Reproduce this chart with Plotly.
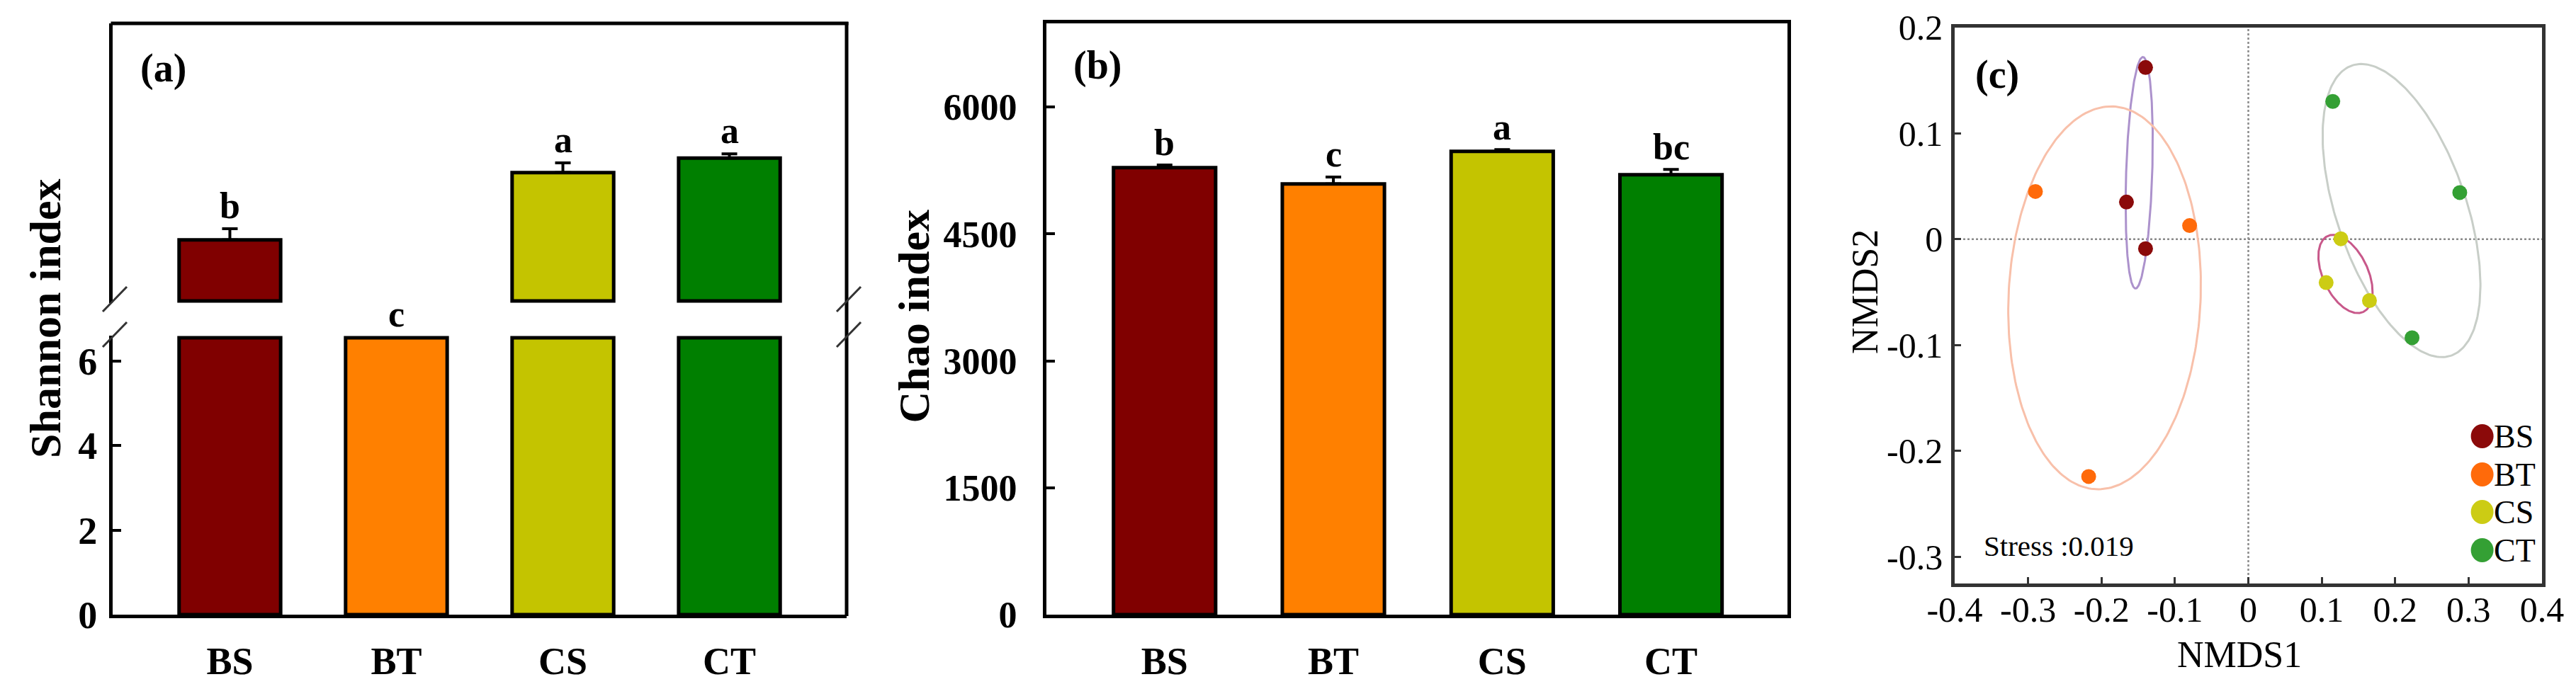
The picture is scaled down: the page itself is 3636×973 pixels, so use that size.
import numpy as np
import plotly.graph_objects as go

W, H = 3636, 973

# ---------------- data ----------------
categories = ["BS", "BT", "CS", "CT"]
bar_colors = ["#800000", "#FF8000", "#C4C400", "#007F00"]

shannon = [6.688, 6.58, 6.785, 6.806]
shannon_err = [0.016, 0.0, 0.014, 0.006]
shannon_letters = ["b", "c", "a", "a"]

chao = [5284, 5091, 5476, 5201]
chao_err = [31, 83, 21, 62]
chao_letters = ["b", "c", "a", "bc"]

shannon_ticks = [0, 2, 4, 6]
chao_ticks = [0, 1500, 3000, 4500, 6000]
nmds1_ticks = [-0.4, -0.3, -0.2, -0.1, 0, 0.1, 0.2, 0.3, 0.4]
nmds2_ticks = [-0.3, -0.2, -0.1, 0, 0.1, 0.2]

groups = ["BS", "BT", "CS", "CT"]
nmds1_BS = [-0.140, -0.166, -0.140]
nmds2_BS = [0.162, 0.035, -0.009]
nmds1_BT = [-0.290, -0.080, -0.2175]
nmds2_BT = [0.045, 0.0128, -0.224]
nmds1_CS = [0.126, 0.106, 0.165]
nmds2_CS = [0.0004, -0.041, -0.058]
nmds1_CT = [0.115, 0.288, 0.223]
nmds2_CT = [0.130, 0.044, -0.093]
point_colors = ["#8B0A0A", "#FF6A0A", "#CCCC14", "#34A034"]
ellipse_colors = ["#AC92CC", "#F8C0AA", "#C8588A", "#C8CEC8"]
stress_text = "Stress :0.019"

# broken axis settings for panel (a)
LOW_CUT = 6.55
LOW_MAX = 6.6
UP_BASE = 6.6
UP_MIN = 6.597
UP_MAX = 7.0

FONT = "Liberation Serif, Times New Roman, serif"


def px(x):
    return x / W


def py(y):
    return 1 - y / H


def ellipse(xs, ys, k=1.23, n=241):
    x = np.asarray(xs, float)
    y = np.asarray(ys, float)
    cov = np.cov(x, y)
    vals, vecs = np.linalg.eigh(cov)
    t = np.linspace(0, 2 * np.pi, n)
    circ = np.vstack([np.cos(t), np.sin(t)])
    pts = vecs @ (np.sqrt(np.clip(vals, 0, None))[:, None] * circ) * k
    return x.mean() + pts[0], y.mean() + pts[1]


fig = go.Figure()

# ---------------- panel (a): Shannon, broken axis ----------------
low_vals = [min(v, LOW_CUT) for v in shannon]
fig.add_trace(go.Bar(
    x=categories, y=low_vals, xaxis="x", yaxis="y", width=0.61,
    marker=dict(color=bar_colors, line=dict(color="black", width=5)),
    showlegend=False, hoverinfo="skip"))

up_len = [(v - UP_BASE) if v > UP_BASE else None for v in shannon]
fig.add_trace(go.Bar(
    x=categories, y=up_len, base=UP_BASE, xaxis="x", yaxis="y2", width=0.61,
    marker=dict(color=bar_colors, line=dict(color="black", width=5)),
    showlegend=False, hoverinfo="skip"))

up_top = [v if v > UP_BASE else None for v in shannon]
fig.add_trace(go.Scatter(
    x=categories, y=up_top, xaxis="x", yaxis="y2", mode="markers",
    marker=dict(size=1, color="rgba(0,0,0,0)"),
    error_y=dict(type="data", array=shannon_err, arrayminus=[0] * 4,
                 symmetric=False, color="black", thickness=4, width=11),
    showlegend=False, hoverinfo="skip"))

# ---------------- panel (b): Chao ----------------
fig.add_trace(go.Bar(
    x=categories, y=chao, xaxis="x2", yaxis="y3", width=0.605,
    marker=dict(color=bar_colors, line=dict(color="black", width=5)),
    error_y=dict(type="data", array=chao_err, arrayminus=[0] * 4,
                 symmetric=False, color="black", thickness=4, width=11),
    showlegend=False, hoverinfo="skip"))

# ---------------- panel (c): NMDS ----------------
xs_all = [nmds1_BS, nmds1_BT, nmds1_CS, nmds1_CT]
ys_all = [nmds2_BS, nmds2_BT, nmds2_CS, nmds2_CT]
for g, xs, ys, ec in zip(groups, xs_all, ys_all, ellipse_colors):
    ex, ey = ellipse(xs, ys)
    fig.add_trace(go.Scatter(
        x=ex, y=ey, xaxis="x3", yaxis="y4", mode="lines",
        line=dict(color=ec, width=3), showlegend=False, hoverinfo="skip"))
for g, xs, ys, pc in zip(groups, xs_all, ys_all, point_colors):
    fig.add_trace(go.Scatter(
        x=xs, y=ys, xaxis="x3", yaxis="y4", mode="markers", name=g,
        marker=dict(color=pc, size=21, line=dict(width=0)),
        showlegend=False))

# ---------------- layout ----------------
plain_tick = dict(family=FONT, size=50, color="black")
bold54 = dict(family=FONT, size=54, color="black", weight="bold")

layout = dict(
    width=W, height=H, autosize=False,
    margin=dict(l=0, r=0, t=0, b=0, pad=0),
    paper_bgcolor="white", plot_bgcolor="white",
    barmode="overlay",
    font=dict(family=FONT, color="black"),
    # panel a
    xaxis=dict(domain=[px(159), px(1195)], anchor="y", range=[-0.704, 3.704],
               showline=True, linecolor="black", linewidth=5, ticks="",
               tickfont=bold54, automargin=False,
               ticklabelstandoff=14, showgrid=False, zeroline=False),
    yaxis=dict(domain=[py(868), py(474)], anchor="x", range=[0, LOW_MAX],
               tickvals=shannon_ticks, ticks="inside", ticklen=12, tickwidth=4,
               tickcolor="black", showline=True, linecolor="black", linewidth=5,
               tickfont=bold54, automargin=False,
               ticklabelstandoff=6, showgrid=False, zeroline=False),
    yaxis2=dict(domain=[py(428), py(33)], anchor="x", range=[UP_MIN, UP_MAX],
                showticklabels=False, ticks="", showline=True, linecolor="black",
                linewidth=5, showgrid=False, zeroline=False, automargin=False),
    # panel b
    xaxis2=dict(domain=[px(1477), px(2523)], anchor="y3", range=[-0.70, 3.69],
                showline=True, mirror=True, linecolor="black", linewidth=5, ticks="",
                tickfont=bold54, automargin=False,
                ticklabelstandoff=14, showgrid=False, zeroline=False),
    yaxis3=dict(domain=[py(868), py(33)], anchor="x2", range=[0, 6990],
                tickvals=chao_ticks, ticks="inside", ticklen=12, tickwidth=4,
                tickcolor="black", showline=True, mirror=True, linecolor="black",
                linewidth=5,
                tickfont=dict(family=FONT, size=52, color="black", weight="bold"),
                automargin=False,
                ticklabelstandoff=26, showgrid=False, zeroline=False),
    # panel c
    xaxis3=dict(domain=[px(2759), px(3588)], anchor="y4", range=[-0.4, 0.4],
                tickvals=nmds1_ticks, ticktext=[f"{v:g}" for v in nmds1_ticks],
                ticks="inside", ticklen=9, tickwidth=3, tickcolor="#333",
                showline=True, mirror=True, linecolor="#333", linewidth=4.5,
                tickfont=plain_tick, ticklabelstandoff=-11, automargin=False,
                showgrid=False, zeroline=False),
    yaxis4=dict(domain=[py(824), py(38.5)], anchor="x3", range=[-0.325, 0.2],
                tickvals=nmds2_ticks, ticktext=[f"{v:g}" for v in nmds2_ticks],
                ticks="inside", ticklen=9, tickwidth=3, tickcolor="#333",
                showline=True, mirror=True, linecolor="#333", linewidth=4.5,
                tickfont=plain_tick, ticklabelstandoff=2, automargin=False,
                showgrid=False, zeroline=False),
)
fig.update_layout(**layout)

shapes = []
# panel (a) frame: top and right lines
shapes.append(dict(type="line", xref="paper", yref="paper",
                   x0=px(156.5), x1=px(1197.5), y0=py(33), y1=py(33),
                   line=dict(color="black", width=5)))
shapes.append(dict(type="line", xref="paper", yref="paper",
                   x0=px(1195), x1=px(1195), y0=py(31), y1=py(870),
                   line=dict(color="black", width=5)))
# break marks
for cx in (159, 1195):
    for cy in (427, 477):
        shapes.append(dict(type="line", xref="paper", yref="paper",
                           x0=px(cx - 14), y0=py(cy + 13), x1=px(cx + 20), y1=py(cy - 22),
                           line=dict(color="#333", width=3)))
# panel (c) dotted zero lines
shapes.append(dict(type="line", xref="x3", yref="y4 domain", x0=0, x1=0, y0=0, y1=1,
                   line=dict(color="#8a8a8a", width=2.5, dash="dot"), layer="below"))
shapes.append(dict(type="line", xref="x3 domain", yref="y4", x0=0, x1=1, y0=0, y1=0,
                   line=dict(color="#8a8a8a", width=2.5, dash="dot"), layer="below"))
# custom legend markers
leg_y = [616, 670, 723, 777]
for yy, pc in zip(leg_y, point_colors):
    shapes.append(dict(type="circle", xref="paper", yref="paper",
                       xsizemode="pixel", ysizemode="pixel",
                       xanchor=px(3503.6), yanchor=py(yy),
                       x0=-16, x1=16, y0=-17, y1=17,
                       fillcolor=pc, line=dict(width=0)))
fig.update_layout(shapes=shapes)

ann = []
# significance letters panel (a)
for c, v, e, l in zip(categories, shannon, shannon_err, shannon_letters):
    if v > UP_BASE:
        ann.append(dict(x=c, y=v + e, xref="x", yref="y2", text=l, showarrow=False,
                        yanchor="middle", yshift=33,
                        font=dict(family=FONT, size=52, color="black", weight="bold")))
    else:
        ann.append(dict(x=c, y=min(v, LOW_CUT), xref="x", yref="y", text=l,
                        showarrow=False, yanchor="middle", yshift=33,
                        font=dict(family=FONT, size=52, color="black", weight="bold")))
# significance letters panel (b)
for c, v, e, l in zip(categories, chao, chao_err, chao_letters):
    ann.append(dict(x=c, y=v + e, xref="x2", yref="y3", text=l, showarrow=False,
                    yanchor="middle", yshift=32,
                    font=dict(family=FONT, size=52, color="black", weight="bold")))
# panel labels
for t, (xx, yy) in zip(["(a)", "(b)", "(c)"], [(230, 97), (1548.6, 93), (2819, 105.5)]):
    ann.append(dict(x=px(xx), y=py(yy), xref="paper", yref="paper", text=t,
                    showarrow=False, xanchor="center", yanchor="middle",
                    font=dict(family=FONT, size=56, color="black", weight="bold")))
# axis titles
ann.append(dict(x=px(64), y=py(450), xref="paper", yref="paper", text="Shannon index",
                showarrow=False, textangle=-90, xanchor="center", yanchor="middle",
                font=dict(family=FONT, size=62, color="black", weight="bold")))
ann.append(dict(x=px(1289.5), y=py(447), xref="paper", yref="paper", text="Chao index",
                showarrow=False, textangle=-90, xanchor="center", yanchor="middle",
                font=dict(family=FONT, size=62, color="black", weight="bold")))
ann.append(dict(x=px(2632.5), y=py(412.6), xref="paper", yref="paper", text="NMDS2",
                showarrow=False, textangle=-90, xanchor="center", yanchor="middle",
                font=dict(family=FONT, size=52, color="black")))
ann.append(dict(x=px(3160.7), y=py(924.6), xref="paper", yref="paper", text="NMDS1",
                showarrow=False, xanchor="center", yanchor="middle",
                font=dict(family=FONT, size=52, color="black")))
# stress
ann.append(dict(x=px(2798), y=py(771), xref="paper", yref="paper", text=stress_text,
                showarrow=False, xanchor="left", yanchor="middle",
                font=dict(family=FONT, size=41, color="black")))
# legend text
for yy, g in zip(leg_y, groups):
    ann.append(dict(x=px(3518), y=py(yy), xref="paper", yref="paper", text=g,
                    showarrow=False, xanchor="left", yanchor="middle",
                    font=dict(family=FONT, size=46, color="black")))
fig.update_layout(annotations=ann)

fig.write_html("out.html")
